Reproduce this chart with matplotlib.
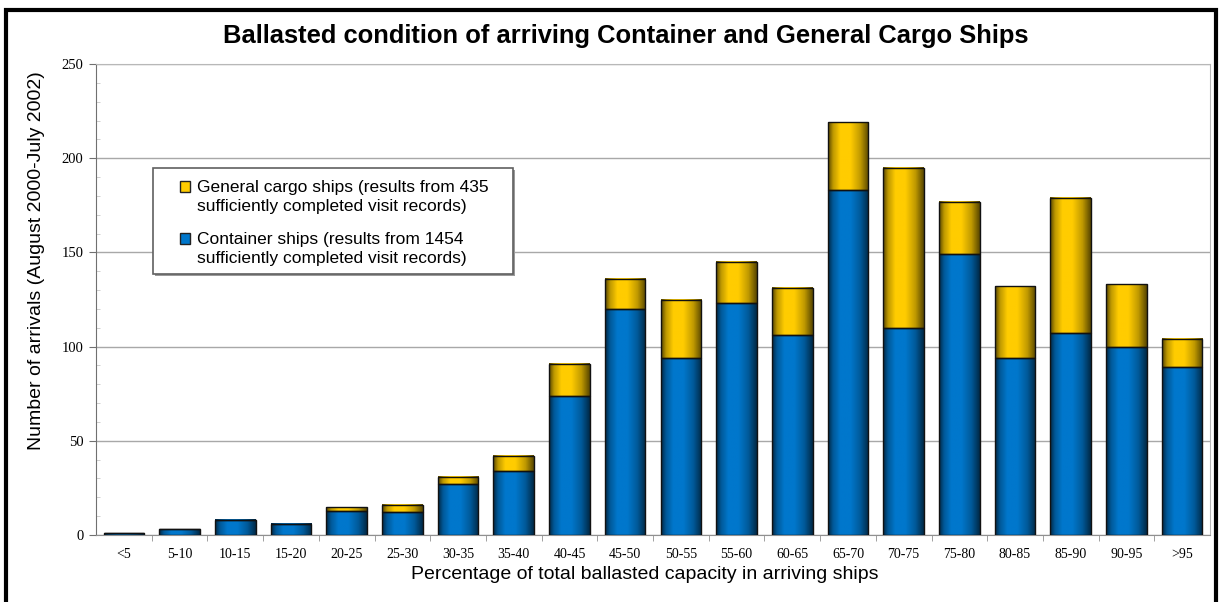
import matplotlib
matplotlib.use("Agg")
import matplotlib.pyplot as plt
import numpy as np
from matplotlib.colors import LinearSegmentedColormap
from matplotlib.patches import Rectangle, Patch
from matplotlib.legend_handler import HandlerPatch
from matplotlib.ticker import MultipleLocator, FixedLocator

categories = ['<5', '5-10', '10-15', '15-20', '20-25', '25-30', '30-35', '35-40',
              '40-45', '45-50', '50-55', '55-60', '60-65', '65-70', '70-75',
              '75-80', '80-85', '85-90', '90-95', '>95']
container = [1, 3, 8, 6, 13, 12, 27, 34, 74, 120, 94, 123, 106, 183, 110,
             149, 94, 107, 100, 89]
general = [0, 0, 0, 0, 2, 4, 4, 8, 17, 16, 31, 22, 25, 36, 85, 28, 38, 72, 33, 15]

label_general = 'General cargo ships (results from 435\nsufficiently completed visit records)'
label_container = 'Container ships (results from 1454\nsufficiently completed visit records)'

blue = '#0077cc'
gold = '#ffcc00'

plt.rcParams['font.family'] = ['Liberation Sans', 'DejaVu Sans']

W, H = 1219, 602
fig = plt.figure(figsize=(W / 100, H / 100), dpi=100)
ax = fig.add_axes([96 / W, 67 / H, 1114 / W, 471 / H])

x = np.arange(len(categories))
w = 0.73
bars_c = ax.bar(x, container, w, facecolor='none', edgecolor='#111111', linewidth=1.0, zorder=4)
bars_g = ax.bar(x, general, w, bottom=container, facecolor='none', edgecolor='#111111',
                linewidth=1.0, zorder=4)


# cylinder-like shading across each bar
def shade(base):
    c = np.array(matplotlib.colors.to_rgb(base))
    dark = c * 0.35
    mid = c * 0.75
    return LinearSegmentedColormap.from_list(
        'sh', [(0, dark), (0.12, mid), (0.3, c), (0.55, c), (0.8, mid), (1, dark)])


grad = np.linspace(0, 1, 64).reshape(1, -1)
for bars, col in ((bars_c, blue), (bars_g, gold)):
    cm = shade(col)
    for b in bars:
        h = b.get_height()
        if h <= 0:
            continue
        bx, by = b.get_x(), b.get_y()
        ax.imshow(grad, cmap=cm, extent=[bx, bx + b.get_width(), by, by + h],
                  aspect='auto', zorder=3, interpolation='bilinear')

ax.set_xlim(-0.5, len(categories) - 0.5)
ax.set_ylim(0, 250)
ax.set_aspect('auto')

ax.yaxis.set_major_locator(MultipleLocator(50))
ax.yaxis.set_minor_locator(MultipleLocator(10))
ax.grid(axis='y', which='major', color='#a8a8a8', linewidth=1.0, zorder=0)
ax.set_axisbelow(True)

ax.set_xticks(x)
ax.set_xticklabels(categories, fontfamily='Liberation Serif', fontsize=10)
ax.xaxis.set_minor_locator(FixedLocator(np.arange(0.5, len(categories) - 1, 1.0)))
ax.tick_params(axis='x', which='major', length=0, pad=9)
ax.tick_params(axis='x', which='minor', length=4, color='#909090', direction='out')
ax.tick_params(axis='y', which='major', length=5, color='#707070', direction='out', pad=4)
ax.tick_params(axis='y', which='minor', length=3, color='#c8c8c8', direction='in')
for t in ax.get_yticklabels():
    t.set_fontfamily('Liberation Serif')
    t.set_fontsize(10.5)

for side in ('top', 'right'):
    ax.spines[side].set_color('#b8b8b8')
ax.spines['left'].set_color('#707070')
ax.spines['bottom'].set_color('#909090')

ax.set_xlabel('Percentage of total ballasted capacity in arriving ships', fontsize=14, labelpad=4)
ax.set_ylabel('Number of arrivals (August 2000-July 2002)', fontsize=14, labelpad=12)
ax.xaxis.label.set_x(0.493)
ax.yaxis.label.set_y(0.582)

fig.text(0.513, 0.940, 'Ballasted condition of arriving Container and General Cargo Ships',
         ha='center', va='center', fontsize=18.4, fontweight='bold')


# legend swatch placed beside the first line of a two-line label
class TopLineSwatch(HandlerPatch):
    def create_artists(self, legend, orig_handle, xdescent, ydescent, width, height,
                       fontsize, trans):
        shift = 0.6 * fontsize
        p = Rectangle((-xdescent, -ydescent + shift), width, height,
                      facecolor=orig_handle.get_facecolor(), edgecolor='#222222',
                      linewidth=1.0, transform=trans)
        return [p]


handles = [Patch(facecolor=gold), Patch(facecolor=blue)]
leg = ax.legend(handles, [label_general, label_container], loc='upper left',
                bbox_to_anchor=(180 / W, 1 - 180 / H), bbox_transform=fig.transFigure,
                fontsize=12.5, frameon=False, handlelength=0.58, handleheight=0.58,
                handletextpad=0.4, labelspacing=1.0, borderpad=0, borderaxespad=0,
                handler_map={Patch: TopLineSwatch()})
for t in leg.get_texts():
    t.set_linespacing(1.37)
leg.set_zorder(6)

# legend frame with a light drop shadow
ax.add_artist(Rectangle((155 / W, 1 - 276 / H), 360 / W, 106 / H, transform=fig.transFigure,
                        facecolor='#9a9a9a', edgecolor='none', zorder=5))
ax.add_artist(Rectangle((153 / W, 1 - 274 / H), 360 / W, 106 / H, transform=fig.transFigure,
                        facecolor='white', edgecolor='#606060', linewidth=1.2, zorder=5))

# outer frame around the whole figure
fig.patches.append(Rectangle((5.5 / W, -0.05), 1210 / W, 1.05 - 10 / H,
                             transform=fig.transFigure, fill=False, edgecolor='black',
                             linewidth=3.0))

fig.savefig('out.png', dpi=100)
